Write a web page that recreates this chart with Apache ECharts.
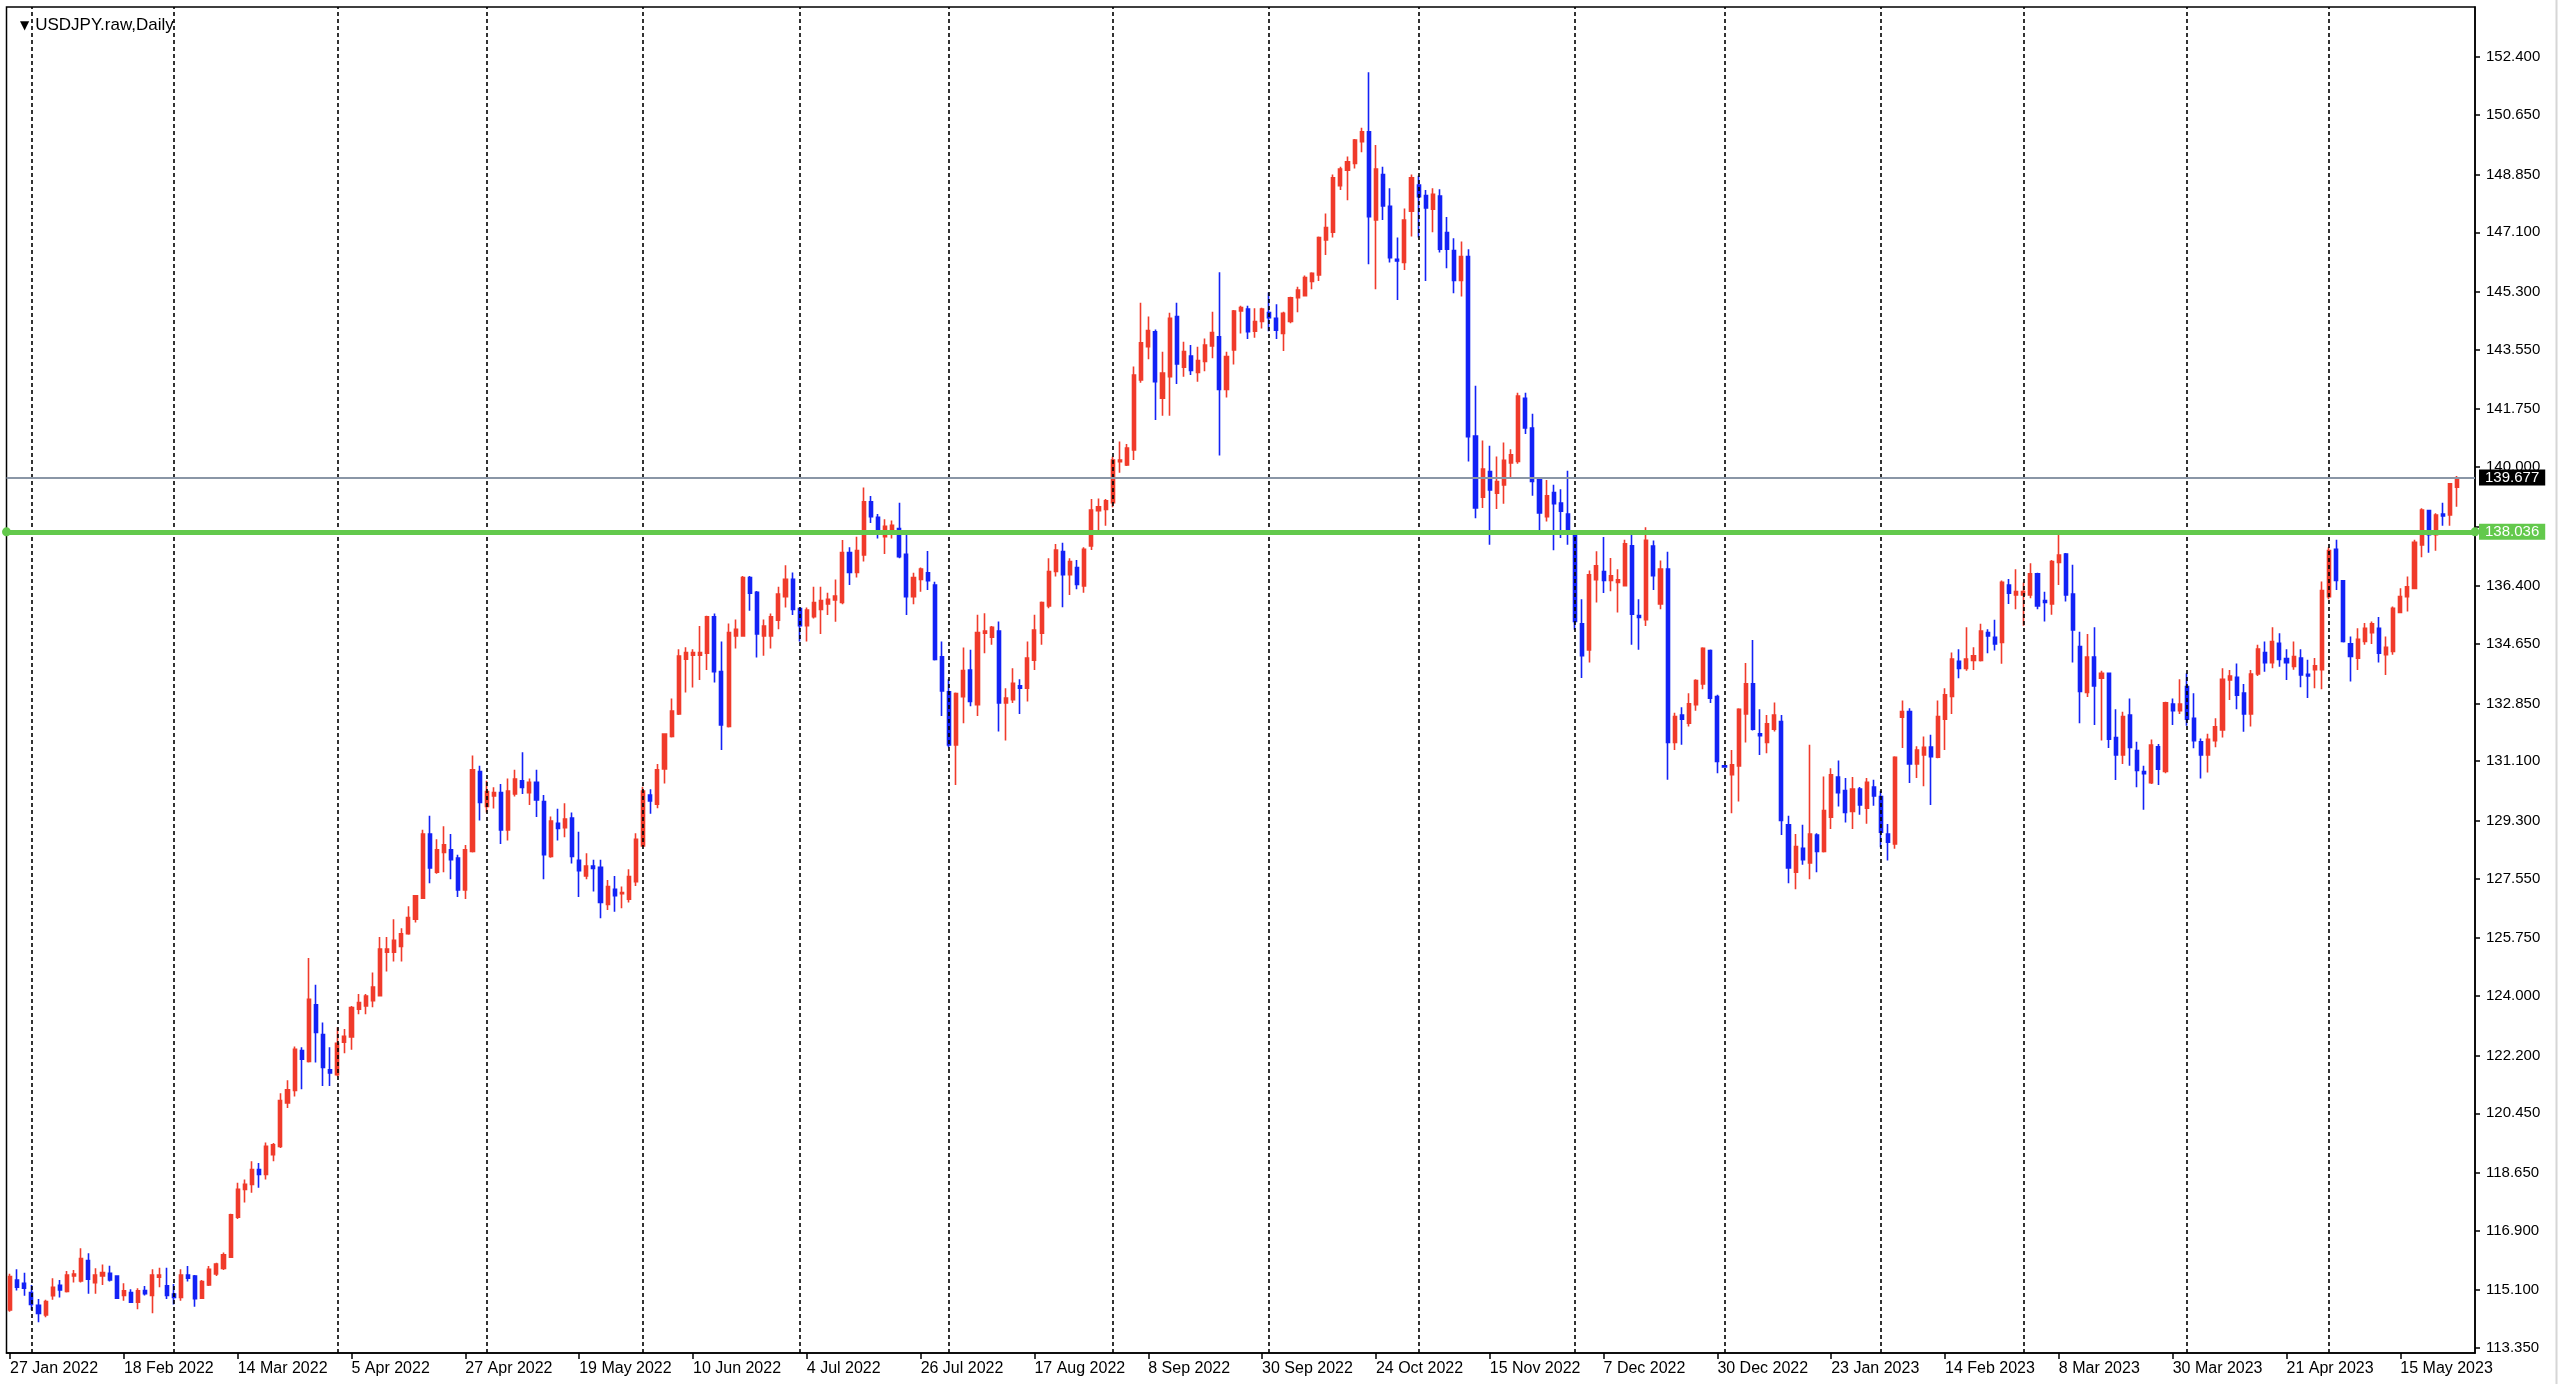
<!DOCTYPE html>
<html>
<head>
<meta charset="utf-8">
<title>USDJPY.raw,Daily</title>
<script src="https://cdn.jsdelivr.net/npm/echarts@6/dist/echarts.min.js"></script>
<style>
  html, body { margin: 0; padding: 0; background: #fff; }
  #main { width: 2560px; height: 1384px; }
</style>
</head>
<body>
<div id="main"></div>
<script>
// 日线数据
var opens = [
  114.50,115.41,115.31,115.03,114.64,114.35,114.93,115.25,115.06,115.53,
  115.38,116.00,115.33,115.53,115.61,115.53,114.94,115.03,114.74,115.09,
  114.94,115.49,115.23,114.98,114.88,115.56,115.53,114.86,115.26,115.59,
  115.76,116.10,117.31,118.15,118.30,118.75,118.60,119.20,119.45,120.76,
  121.14,122.35,122.02,123.73,122.83,121.77,121.62,122.60,122.76,123.60,
  123.70,123.86,124.01,125.32,125.32,125.50,125.88,126.32,126.96,128.90,
  127.74,128.34,128.42,128.17,127.21,128.37,130.79,129.73,130.05,130.15,
  129.02,130.11,130.51,130.15,130.46,129.88,128.22,129.22,129.09,129.38,
  128.10,127.63,127.93,127.89,126.77,127.23,127.09,126.93,127.46,128.54,
  130.08,129.80,130.87,131.85,132.53,134.19,134.31,134.31,134.37,135.47,
  133.81,132.15,134.89,134.89,136.66,136.21,134.89,134.89,135.37,136.08,
  136.60,135.72,135.20,135.47,135.69,135.86,135.98,135.90,137.41,136.81,
  137.34,138.95,138.48,137.89,138.09,138.14,137.36,136.08,136.60,136.80,
  136.43,134.26,133.20,131.59,133.05,133.86,132.81,134.97,134.85,135.04,
  132.86,132.96,133.38,133.31,134.16,134.97,135.80,136.84,137.44,136.74,
  136.96,136.40,137.61,138.68,138.72,138.92,140.16,140.06,140.52,142.63,
  143.64,144.09,142.08,142.73,144.55,143.02,143.36,142.86,143.19,143.66,
  143.94,142.35,143.54,144.72,144.78,144.11,144.40,144.67,144.50,144.04,
  144.40,145.12,145.18,145.61,145.81,146.87,147.10,148.51,148.98,149.18,
  149.84,150.14,147.47,148.85,147.89,146.28,146.19,147.74,148.53,148.21,
  147.80,148.20,147.09,146.55,145.64,146.37,140.94,139.09,139.86,139.21,
  139.46,140.12,140.17,142.08,141.18,139.61,138.50,139.23,138.91,138.58,
  138.00,135.26,134.47,136.59,136.84,136.57,136.51,136.41,137.62,135.51,
  135.38,137.61,135.86,136.91,131.67,132.50,132.25,132.81,133.44,134.45,
  133.06,130.96,130.69,130.96,132.53,133.44,131.93,131.67,132.07,132.30,
  129.18,127.74,128.47,128.02,128.87,128.37,129.41,130.62,130.21,129.58,
  130.26,129.68,130.32,130.03,128.90,128.60,132.43,132.60,131.02,131.29,
  131.53,131.22,132.37,133.06,134.12,133.91,134.15,134.15,134.99,134.85,
  134.69,136.43,136.13,136.13,136.13,136.77,135.96,135.86,137.11,137.37,
  136.16,134.57,133.18,134.25,133.61,133.76,131.82,131.29,132.50,131.42,
  130.79,130.45,131.54,130.79,132.83,132.63,133.36,132.40,131.69,131.29,
  131.72,132.05,133.56,133.64,133.16,132.53,133.74,134.39,134.08,134.67,
  134.21,133.97,134.22,133.73,133.87,133.87,136.08,137.51,136.56,134.65,
  134.22,134.72,134.99,135.12,134.32,134.42,135.60,136.08,136.33,137.64,
  138.68,137.95,138.58,138.55,139.39
];
var closes = [
  115.51,115.19,115.16,114.67,114.40,114.76,115.19,115.11,115.56,115.59,
  116.06,115.43,115.56,115.63,115.41,114.86,115.08,114.74,115.08,114.99,
  115.56,115.56,114.94,114.88,115.56,115.46,114.84,115.36,115.73,115.89,
  116.17,117.38,118.15,118.30,118.75,118.60,119.45,119.50,120.84,121.16,
  122.39,122.09,123.90,122.90,121.84,121.67,122.57,122.78,123.65,123.80,
  124.00,124.27,125.42,125.42,125.68,125.88,126.37,127.03,128.90,127.87,
  128.42,128.57,128.12,127.21,128.42,130.84,129.85,130.18,130.15,129.02,
  130.20,130.56,130.31,130.46,129.93,128.27,129.29,129.07,129.35,128.22,
  127.79,127.93,127.86,126.83,127.31,127.03,127.13,127.61,128.74,130.20,
  129.90,130.84,131.92,132.62,134.28,134.39,134.39,134.39,135.47,133.81,
  132.20,134.99,135.09,136.66,136.18,134.95,135.19,135.47,136.16,136.60,
  135.69,135.20,135.67,135.90,135.96,136.00,136.10,137.41,136.81,137.47,
  138.95,138.50,138.09,138.21,138.24,137.29,136.08,136.66,136.91,136.56,
  134.18,133.23,131.59,133.15,133.84,132.91,134.99,135.04,135.15,132.86,
  133.01,133.46,133.31,134.22,135.07,135.90,136.84,137.49,136.74,137.14,
  136.45,137.51,138.70,138.80,138.98,140.21,140.21,140.57,142.78,143.76,
  144.13,142.58,142.84,144.50,143.12,143.49,142.92,143.22,143.69,144.07,
  142.35,143.34,144.72,144.82,144.09,144.40,144.78,144.52,144.14,144.65,
  145.12,145.35,145.73,145.86,146.94,147.24,148.75,149.01,149.23,149.89,
  150.14,147.57,149.01,147.90,146.33,146.23,147.47,148.75,148.18,147.84,
  148.25,146.59,146.59,145.64,146.37,140.92,138.76,139.94,139.31,139.56,
  140.20,140.37,142.15,141.18,139.56,138.61,139.13,138.89,138.66,138.08,
  135.33,134.29,136.74,137.01,136.57,136.71,136.59,137.68,135.55,135.45,
  137.78,136.71,136.91,131.67,132.45,132.37,132.84,133.54,134.52,133.01,
  131.09,130.93,130.99,132.67,133.44,132.07,131.87,132.23,132.50,129.31,
  127.87,128.52,128.12,128.90,128.37,129.61,130.69,130.15,129.55,130.26,
  129.78,130.46,130.05,128.95,128.65,131.22,132.60,131.02,131.44,131.52,
  131.24,132.45,133.11,134.19,133.91,134.19,134.29,135.04,134.89,134.65,
  136.51,136.18,136.23,136.23,136.77,135.80,135.90,137.14,137.34,136.13,
  135.07,133.21,134.25,133.38,133.76,131.77,131.29,132.45,131.52,130.82,
  130.72,131.59,130.86,132.87,132.63,132.83,132.37,131.72,131.29,131.76,
  132.14,133.58,133.68,133.10,132.53,133.74,134.49,134.08,134.72,134.18,
  134.08,134.27,133.71,133.68,133.99,136.26,137.47,136.57,134.72,134.27,
  134.79,135.12,135.26,134.37,134.55,135.73,136.08,136.38,137.72,138.70,
  137.95,138.55,138.52,139.49,139.677
];
var lows = [
  114.45,115.09,114.93,114.50,114.13,114.28,114.81,114.88,115.03,115.33,
  115.33,114.99,114.99,115.26,115.36,114.83,114.78,114.73,114.52,114.94,
  114.40,115.19,114.83,114.67,114.78,115.36,114.60,114.83,115.23,115.53,
  115.71,116.07,117.25,117.75,118.05,118.20,118.45,119.00,119.40,120.61,
  120.96,121.18,121.99,121.99,121.28,121.28,121.57,122.27,122.37,123.45,
  123.45,123.66,123.99,124.74,125.04,125.04,125.85,126.22,126.93,127.41,
  127.70,127.74,127.53,126.99,126.93,128.34,129.31,129.55,129.67,128.60,
  128.70,130.03,130.11,129.78,129.41,127.53,128.18,128.70,128.80,128.01,
  126.99,127.53,127.16,126.35,126.60,126.55,126.65,126.83,127.33,128.52,
  129.51,129.68,130.43,131.82,132.50,133.18,133.33,133.56,133.86,133.48,
  131.44,132.12,134.51,134.87,135.65,134.24,134.29,134.51,135.09,135.75,
  135.52,134.72,134.72,135.42,134.95,135.52,135.32,135.85,136.43,136.66,
  137.14,138.31,137.84,137.37,137.84,137.24,135.52,135.85,136.23,136.28,
  134.15,132.47,131.52,130.38,132.25,132.76,132.47,134.37,134.62,132.00,
  131.73,132.86,132.53,132.91,133.86,134.62,135.73,136.69,135.76,136.13,
  136.30,136.20,137.49,138.00,138.22,138.78,139.83,140.03,140.21,142.55,
  143.26,141.42,141.55,141.55,142.51,142.73,142.78,142.58,142.90,143.29,
  140.35,142.10,143.10,144.04,143.87,143.91,144.19,144.11,143.87,143.51,
  144.35,144.68,145.16,145.38,145.63,146.41,146.94,148.38,148.07,149.03,
  149.52,146.13,145.38,147.47,146.19,145.05,145.96,146.97,146.94,145.63,
  147.10,146.49,146.01,145.26,145.16,140.17,138.45,138.76,137.65,138.73,
  138.89,139.66,140.10,141.00,139.13,138.00,138.35,137.48,137.85,137.65,
  135.08,133.62,134.09,135.90,136.19,136.24,135.60,136.39,134.62,134.47,
  135.19,136.28,135.70,130.54,131.44,131.60,132.15,132.63,133.28,132.86,
  130.74,130.90,129.53,129.88,131.67,132.03,131.29,131.34,132.00,128.87,
  127.41,127.23,127.97,127.53,127.74,128.34,129.05,129.73,129.25,129.05,
  129.48,129.21,129.75,128.50,128.10,128.45,131.50,130.44,130.59,130.34,
  129.78,131.19,131.44,132.53,133.61,133.84,133.86,134.12,134.37,134.45,
  134.05,135.86,135.70,135.20,136.03,135.70,135.33,135.53,136.43,135.93,
  134.09,132.25,133.04,132.20,131.73,131.50,130.53,131.02,130.96,130.31,
  129.63,130.41,130.38,130.74,132.20,132.53,132.17,131.49,130.58,130.76,
  131.52,131.82,132.95,132.67,131.99,132.15,133.68,133.81,133.91,133.96,
  133.56,133.87,133.34,133.01,133.31,133.28,136.00,136.28,134.69,133.51,
  133.86,134.62,134.65,134.09,133.71,134.32,135.58,135.63,136.30,137.27,
  137.41,137.47,138.22,138.22,138.80
];
var highs = [
  115.60,115.73,115.63,115.26,114.83,114.81,115.46,115.41,115.68,115.71,
  116.37,116.22,115.76,115.88,115.84,115.55,115.31,115.13,115.16,115.23,
  115.73,115.78,115.78,115.29,115.73,115.83,115.56,115.41,115.83,115.93,
  116.24,117.41,118.35,118.45,119.00,118.95,119.57,119.55,121.06,121.45,
  122.47,122.45,125.15,124.34,123.20,122.45,123.05,123.00,123.70,124.06,
  124.06,124.71,125.78,125.78,126.32,126.05,126.71,127.05,129.03,129.45,
  128.74,129.13,128.90,128.27,128.57,131.27,130.96,130.51,130.31,130.41,
  130.58,130.84,131.37,130.58,130.84,130.08,129.43,129.66,129.83,129.55,
  128.97,128.32,128.12,128.12,127.51,127.63,127.31,127.83,128.92,130.33,
  130.25,131.02,131.95,133.00,134.49,134.55,134.49,135.19,135.50,135.57,
  134.72,135.27,135.39,136.70,136.70,136.25,135.39,135.57,136.38,137.03,
  136.81,135.75,135.75,136.38,136.38,136.20,136.60,137.79,137.57,137.89,
  139.38,139.12,138.58,138.42,138.38,138.92,137.94,136.80,136.96,137.46,
  136.53,134.72,133.58,133.18,134.54,134.47,135.53,135.58,135.19,135.33,
  133.31,133.91,133.58,134.72,135.53,135.93,137.24,137.67,137.71,137.24,
  137.19,137.57,139.03,139.05,139.03,140.31,140.77,140.70,143.04,144.97,
  144.55,144.16,143.49,144.67,144.97,143.79,143.69,143.64,143.89,144.70,
  145.89,143.49,144.75,144.88,144.88,144.80,144.82,145.28,144.92,144.70,
  145.15,145.45,145.79,145.89,146.97,147.67,148.85,149.08,149.39,149.92,
  150.26,151.94,149.74,149.08,148.43,146.94,147.82,148.85,148.81,148.38,
  148.43,148.40,147.56,146.92,146.82,146.59,142.46,140.80,140.64,140.32,
  140.74,140.54,142.25,142.25,141.61,139.66,139.61,139.46,139.33,139.89,
  138.05,136.00,136.87,137.45,137.88,137.25,136.91,137.80,137.98,136.00,
  138.18,137.78,137.17,137.44,132.57,132.73,133.16,133.58,134.55,134.48,
  133.11,130.99,131.44,132.70,134.07,134.77,132.67,132.50,132.88,132.50,
  129.45,128.90,129.18,131.60,128.92,130.64,130.89,131.12,130.59,130.62,
  130.32,130.59,130.54,130.20,129.20,131.25,132.94,132.70,131.55,131.85,
  131.90,132.94,133.31,134.39,134.49,135.15,134.55,135.26,135.09,135.38,
  136.57,136.61,136.91,136.51,137.09,136.80,136.23,137.19,137.98,137.40,
  137.04,135.02,134.95,135.15,133.84,133.78,132.67,132.60,133.00,131.69,
  130.96,131.76,131.62,132.90,133.00,133.58,133.76,133.16,131.79,131.93,
  132.40,133.91,133.86,134.06,133.44,133.86,134.62,134.72,135.15,134.97,
  134.49,134.72,134.49,134.17,134.22,136.54,137.57,137.80,136.58,134.87,
  135.12,135.28,135.33,135.46,134.87,135.78,136.33,136.69,137.80,138.75,
  138.70,138.60,138.92,139.51,139.73
];

// 日期标签 (每16根K线一个)
var xLabels = ['27 Jan 2022','18 Feb 2022','14 Mar 2022','5 Apr 2022','27 Apr 2022','19 May 2022',
  '10 Jun 2022','4 Jul 2022','26 Jul 2022','17 Aug 2022','8 Sep 2022','30 Sep 2022','24 Oct 2022',
  '15 Nov 2022','7 Dec 2022','30 Dec 2022','23 Jan 2023','14 Feb 2023','8 Mar 2023','30 Mar 2023',
  '21 Apr 2023','15 May 2023'];
var labelStep = 16;

// 价格刻度
var yLabels = ['113.350','115.100','116.900','118.650','120.450','122.200','124.000','125.750',
  '127.550','129.300','131.100','132.850','134.650','136.400','138.200','140.000','141.750',
  '143.550','145.300','147.100','148.850','150.650','152.400'];

// 月初K线序号 (竖虚线)
var monthStarts = [3, 23, 46, 67, 89, 111, 132, 155, 177, 198, 220, 241, 263, 283, 306, 326];

var lastPrice = 139.677;   // 当前价
var levelPrice = 138.036;  // 水平线

var font = "'Liberation Sans', Arial, sans-serif";

var kData = opens.map(function (o, i) {
    return [o, closes[i], lows[i], highs[i]];
});

// 多留2个空位在右边
var cats = [];
for (var i = 0; i < opens.length + 2; i++) cats.push(String(i));

var yTicks = yLabels.map(function (s) { return parseFloat(s); });

function showLabel(i) {
    return i % labelStep === 0 && i / labelStep < xLabels.length;
}

// 价格框 (右侧)
function priceBox(bg) {
    return {
        show: true, position: 'end', distance: 4,
        backgroundColor: bg, color: '#fff',
        padding: [1, 6, 0, 6], fontFamily: font, fontSize: 15
    };
}

var chart = echarts.init(document.getElementById('main'));

chart.setOption({
    animation: false,
    backgroundColor: '#ffffff',
    title: {
        text: '{t|\u25BC}{s|}USDJPY.raw,Daily',
        left: 15,
        top: 12,
        textStyle: {
            fontFamily: font, fontSize: 17, fontWeight: 'normal', color: '#000',
            rich: {
                t: { fontSize: 12, color: '#000', fontFamily: 'DejaVu Sans' },
                s: { width: 6 }
            }
        }
    },
    graphic: [
        // 窗口右边框
        { type: 'line', shape: { x1: 2556.5, y1: 0, x2: 2556.5, y2: 1384 }, style: { stroke: '#d6d6d6', lineWidth: 2 }, silent: true }
    ],
    grid: {
        left: 6.5, right: 85, top: 7, bottom: 31,
        show: true, borderColor: '#000', borderWidth: 1.5,
        outerBoundsMode: 'none'
    },
    xAxis: {
        type: 'category',
        data: cats,
        boundaryGap: true,
        axisLine: { show: true, lineStyle: { color: '#000', width: 1.5 } },
        axisTick: {
            show: true, alignWithLabel: true, length: 6,
            interval: function (i) { return showLabel(i); },
            lineStyle: { color: '#000', width: 1.5 }
        },
        axisLabel: {
            interval: function (i) { return showLabel(i); },
            formatter: function (v, i) { return xLabels[i / labelStep]; },
            align: 'left',
            margin: 8,
            color: '#000',
            fontFamily: font,
            fontSize: 16
        },
        splitLine: { show: false }
    },
    yAxis: {
        type: 'value',
        position: 'right',
        scale: true,
        min: 113.20,
        max: 153.915,
        axisLine: { show: true, lineStyle: { color: '#000', width: 1.5 } },
        axisTick: {
            show: true, length: 5, customValues: yTicks,
            lineStyle: { color: '#000', width: 1.5 }
        },
        axisLabel: {
            customValues: yTicks,
            // 被水平线价格框挡住的刻度不显示
            formatter: function (v) {
                return Math.abs(v - levelPrice) < 0.5 ? '' : v.toFixed(3);
            },
            margin: 11,
            color: '#000',
            fontFamily: font,
            fontSize: 15
        },
        splitLine: { show: false }
    },
    series: [
        {
            // 月分隔虚线
            type: 'line',
            data: [],
            z: 1,
            silent: true,
            markLine: {
                silent: true,
                symbol: 'none',
                animation: false,
                label: { show: false },
                lineStyle: { color: '#000', width: 1.6, type: [4, 3] },
                emphasis: { disabled: true },
                data: monthStarts.map(function (m) { return { xAxis: String(m) }; })
            }
        },
        {
            name: 'USDJPY',
            type: 'candlestick',
            data: kData,
            z: 3,
            barWidth: 3.6,
            itemStyle: {
                color: '#f03b2b',
                color0: '#1322f6',
                borderColor: '#f03b2b',
                borderColor0: '#1322f6',
                borderWidth: 1.6
            },
            markLine: {
                silent: true,
                animation: false,
                symbol: 'none',
                emphasis: { disabled: true },
                lineStyle: { color: '#8a96a6', width: 2, type: 'solid' },
                label: priceBox('#000'),
                data: [{ yAxis: lastPrice, label: { formatter: lastPrice.toFixed(3) } }]
            }
        },
        {
            // 绿色水平线
            type: 'line',
            data: [],
            z: 4,
            silent: true,
            markLine: {
                silent: true,
                animation: false,
                symbol: ['circle', 'circle'],
                symbolSize: 9,
                emphasis: { disabled: true },
                lineStyle: { color: '#63c94c', width: 5, type: 'solid' },
                label: priceBox('#63c94c'),
                data: [{ yAxis: levelPrice, label: { formatter: levelPrice.toFixed(3) } }]
            }
        }
    ]
});
</script>
</body>
</html>
